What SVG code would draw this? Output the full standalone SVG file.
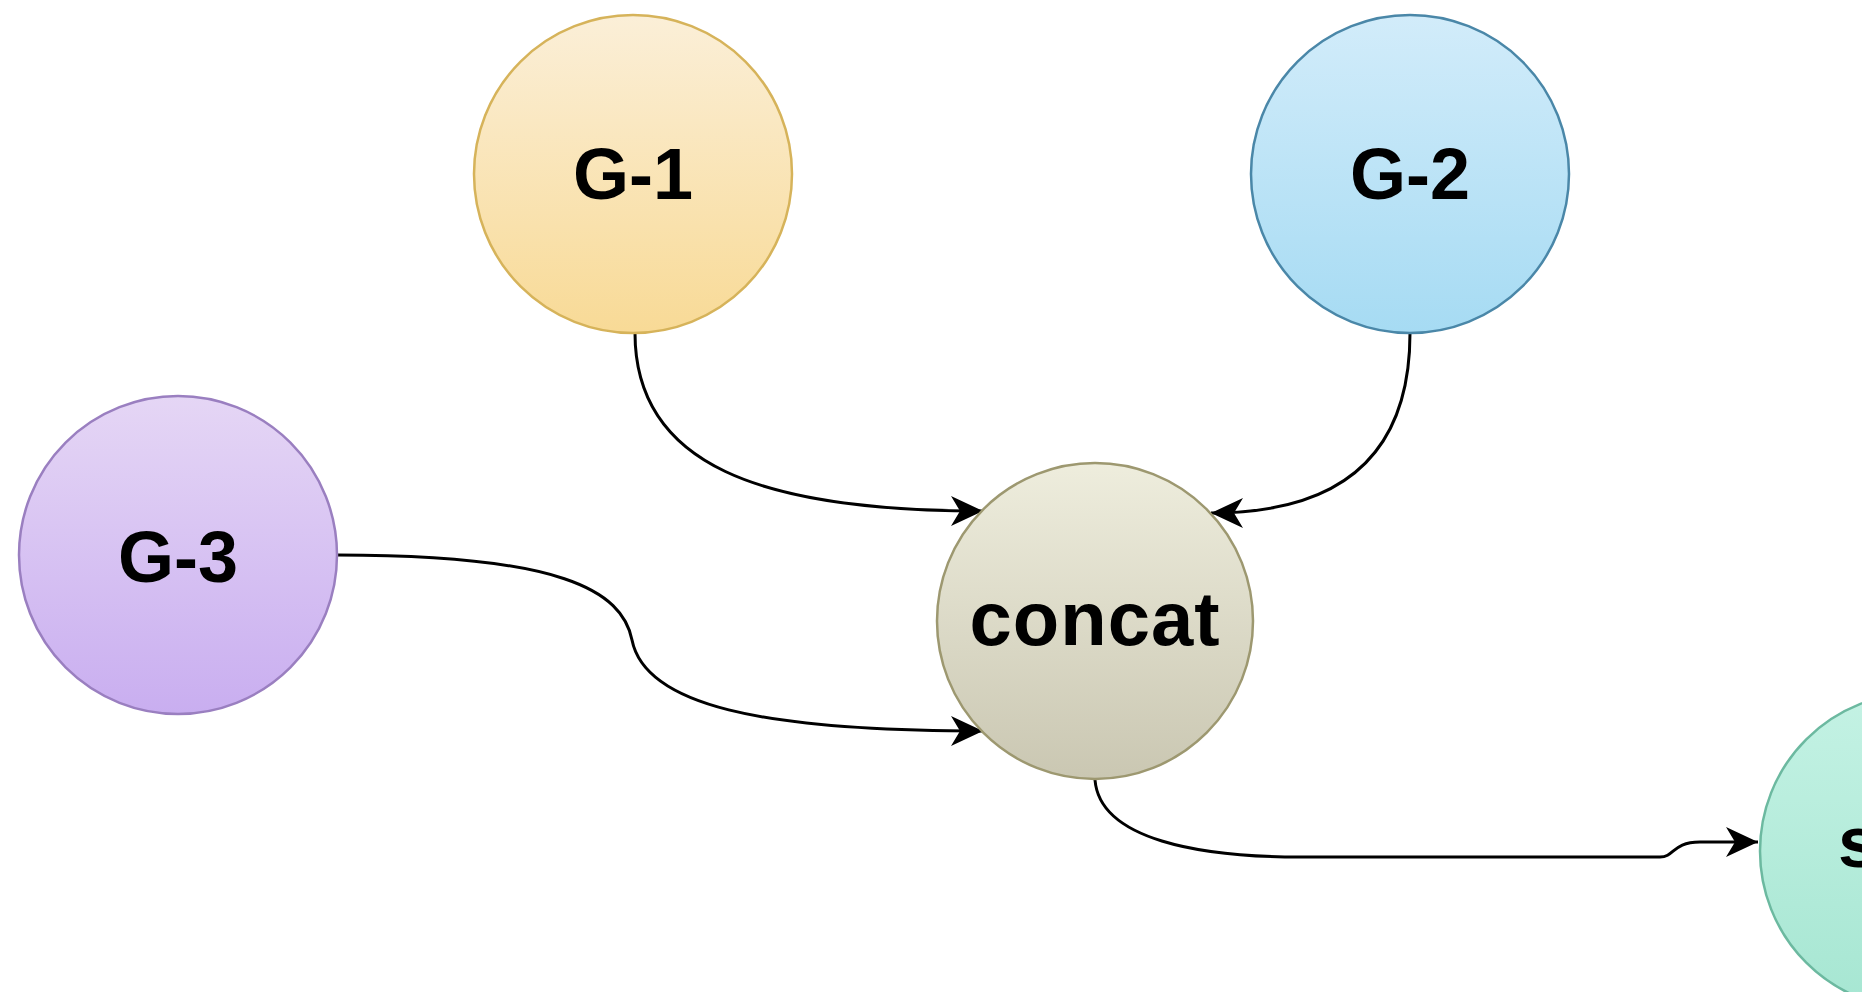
<svg xmlns="http://www.w3.org/2000/svg" width="1862" height="992" viewBox="0 0 1862 992">
<defs>
<linearGradient id="gY" x1="0" y1="0" x2="0" y2="1"><stop offset="0" stop-color="#fbefd8"/><stop offset="1" stop-color="#f8da96"/></linearGradient>
<linearGradient id="gB" x1="0" y1="0" x2="0" y2="1"><stop offset="0" stop-color="#d2ecfa"/><stop offset="1" stop-color="#a6dbf3"/></linearGradient>
<linearGradient id="gP" x1="0" y1="0" x2="0" y2="1"><stop offset="0" stop-color="#e5d6f5"/><stop offset="1" stop-color="#c9aef0"/></linearGradient>
<linearGradient id="gC" x1="0" y1="0" x2="0" y2="1"><stop offset="0" stop-color="#eeeddd"/><stop offset="1" stop-color="#cac7b2"/></linearGradient>
<linearGradient id="gG" x1="0" y1="0" x2="0" y2="1"><stop offset="0" stop-color="#c4f2e4"/><stop offset="1" stop-color="#a6e6d2"/></linearGradient>
<marker id="arr" markerUnits="userSpaceOnUse" markerWidth="36" markerHeight="32" refX="32" refY="15" orient="auto" viewBox="0 0 36 32">
<path d="M0,0 L32,15 L0,30 L9,15 Z" fill="#000"/>
</marker>
</defs>
<style>
.lbl{font-family:"Liberation Sans",Arial,sans-serif;font-weight:bold;font-size:72px;fill:#000;text-anchor:middle}
.edge{fill:none;stroke:#000;stroke-width:3;marker-end:url(#arr)}
</style>
<rect width="1862" height="992" fill="#fff"/>
<g id="connectors">
<path class="edge" d="M 635 333 C 635 465 760 511 983 511"/>
<path class="edge" d="M 1410 333 C 1410 465 1330 513 1211 513"/>
<path class="edge" d="M 337 555 C 560 555 622 590 632 640 C 645 705 760 731 983 731"/>
<path class="edge" d="M 1095 780 C 1100 840 1200 857 1300 857 L 1660 857 C 1675 857 1672 842 1700 842 L 1758 842"/>
</g>
<g id="node-g1">
<circle cx="633" cy="174" r="159" fill="url(#gY)" stroke="#d6b35a" stroke-width="2.5"/>
<text class="lbl" x="633" y="199">G-1</text>
</g>
<g id="node-g2">
<circle cx="1410" cy="174" r="159" fill="url(#gB)" stroke="#4a87a8" stroke-width="2.5"/>
<text class="lbl" x="1410" y="199">G-2</text>
</g>
<g id="node-g3">
<circle cx="178" cy="555" r="159" fill="url(#gP)" stroke="#9a7fc0" stroke-width="2.5"/>
<text class="lbl" x="178" y="582">G-3</text>
</g>
<g id="node-concat">
<circle cx="1095" cy="621" r="158" fill="url(#gC)" stroke="#9d9870" stroke-width="2.5"/>
<text class="lbl" x="1095" y="645" style="font-size:76px;letter-spacing:1px">concat</text>
</g>
<g id="node-s">
<circle cx="1918" cy="851" r="158" fill="url(#gG)" stroke="#6cb9a0" stroke-width="2.5"/>
<text class="lbl" x="1838" y="867" style="text-anchor:start">s</text>
</g>
</svg>
